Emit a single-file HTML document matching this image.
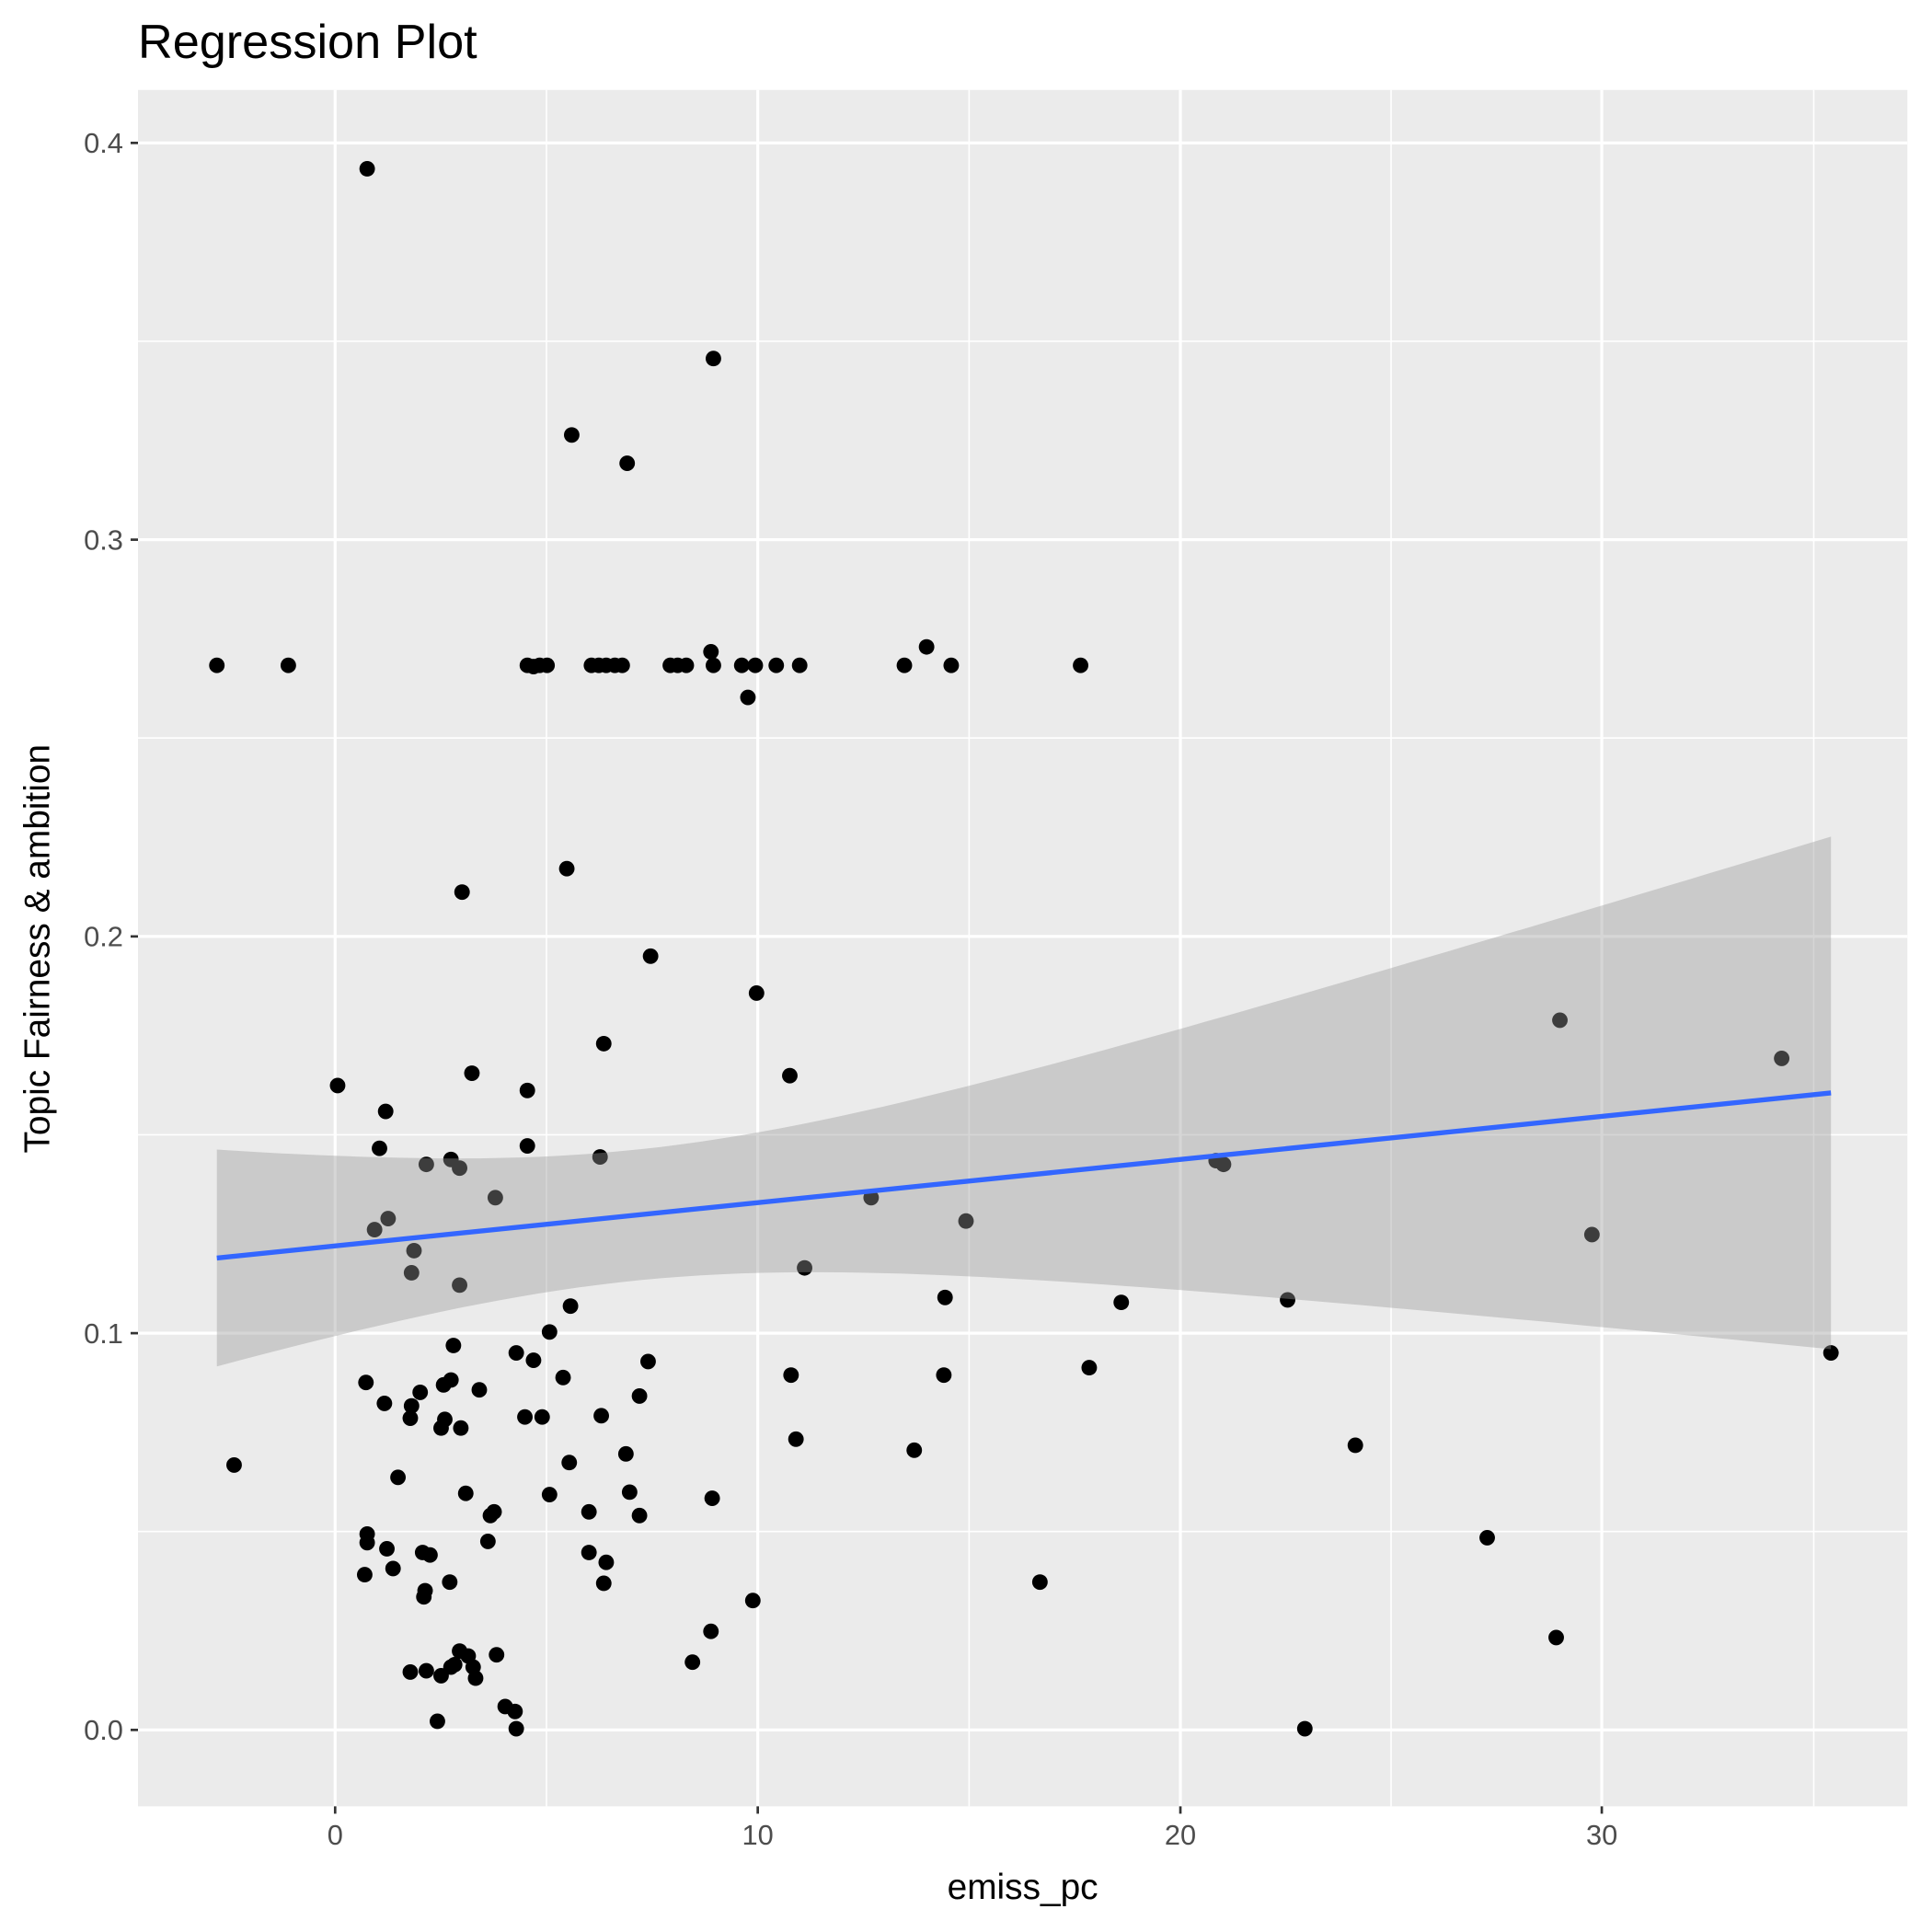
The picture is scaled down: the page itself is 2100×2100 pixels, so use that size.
<!DOCTYPE html>
<html><head><style>html,body{margin:0;padding:0;background:#fff}svg{display:block}</style></head>
<body>
<svg id="s" width="2100" height="2100" viewBox="0 0 1568 1568" xmlns="http://www.w3.org/2000/svg" font-family="Liberation Sans, sans-serif">
<rect x="0" y="0" width="1568" height="1568" fill="#fff"/>
<rect x="112" y="73" width="1436" height="1393" fill="#ebebeb"/>
<g stroke="#fff" stroke-width="1.2">
<line x1="443.5" x2="443.5" y1="73" y2="1466"/><line x1="786.5" x2="786.5" y1="73" y2="1466"/><line x1="1129" x2="1129" y1="73" y2="1466"/><line x1="1472" x2="1472" y1="73" y2="1466"/>
<line x1="112" x2="1548" y1="277" y2="277"/><line x1="112" x2="1548" y1="599" y2="599"/><line x1="112" x2="1548" y1="921" y2="921"/><line x1="112" x2="1548" y1="1243" y2="1243"/>
</g>
<g stroke="#fff" stroke-width="2.4">
<line x1="272" x2="272" y1="73" y2="1466"/><line x1="615" x2="615" y1="73" y2="1466"/><line x1="958" x2="958" y1="73" y2="1466"/><line x1="1300" x2="1300" y1="73" y2="1466"/>
<line x1="112" x2="1548" y1="116" y2="116"/><line x1="112" x2="1548" y1="438" y2="438"/><line x1="112" x2="1548" y1="760" y2="760"/><line x1="112" x2="1548" y1="1082" y2="1082"/><line x1="112" x2="1548" y1="1404" y2="1404"/>
</g>
<g id="pts" fill="#000"></g>
<path id="rib" fill="#999999" fill-opacity="0.4"/>
<line x1="176" y1="1021" x2="1486" y2="887" stroke="#3366FF" stroke-width="4"/>
<g stroke="#333" stroke-width="2">
<line x1="106" x2="112" y1="116" y2="116"/><line x1="106" x2="112" y1="438" y2="438"/><line x1="106" x2="112" y1="760" y2="760"/><line x1="106" x2="112" y1="1082" y2="1082"/><line x1="106" x2="112" y1="1404" y2="1404"/>
<line x1="272" x2="272" y1="1466" y2="1472"/><line x1="615" x2="615" y1="1466" y2="1472"/><line x1="958" x2="958" y1="1466" y2="1472"/><line x1="1300" x2="1300" y1="1466" y2="1472"/>
</g>
<g fill="#4d4d4d" font-size="23" text-anchor="end">
<text x="100" y="124">0.4</text><text x="100" y="446">0.3</text><text x="100" y="768">0.2</text><text x="100" y="1090">0.1</text><text x="100" y="1412">0.0</text>
</g>
<g fill="#4d4d4d" font-size="23" text-anchor="middle">
<text x="272" y="1497">0</text><text x="615" y="1497">10</text><text x="958" y="1497">20</text><text x="1300" y="1497">30</text>
</g>
<text x="830" y="1541" font-size="29" text-anchor="middle" fill="#000">emiss_pc</text>
<text transform="translate(40,770) rotate(-90)" font-size="29" text-anchor="middle" fill="#000">Topic Fairness &amp; ambition</text>
<text x="112" y="47" font-size="39" fill="#000">Regression Plot</text>
</svg>
<script>
var P=[[176,540],[234,540],[298,137],[579,291],[464,353],[509,376],[428,540],[433,541],[438,540],[444,540],[480,540],[486,540],[492,540],[499,540],[505,540],[544,540],[550,540],[557,540],[577,529],[579,540],[602,540],[613,540],[630,540],[649,540],[734,540],[752,525],[772,540],[877,540],[607,566],[460,705],[375,724],[528,776],[614,806],[490,847],[641,873],[383,871],[274,881],[428,885],[313,902],[308,932],[428,930],[346,945],[366,941],[373,948],[487,939],[402,972],[315,989],[304,998],[336,1015],[334,1033],[373,1043],[463,1060],[653,1029],[707,972],[784,991],[987,942],[993,945],[1266,828],[1446,859],[1292,1002],[1045,1055],[910,1057],[767,1053],[884,1110],[766,1116],[642,1116],[1486,1098],[446,1081],[368,1092],[419,1098],[433,1104],[526,1105],[457,1118],[297,1122],[366,1120],[341,1130],[312,1139],[389,1128],[360,1124],[334,1141],[333,1151],[426,1150],[440,1150],[488,1149],[361,1152],[358,1159],[374,1159],[519,1133],[508,1180],[646,1168],[742,1177],[1100,1173],[190,1189],[323,1199],[462,1187],[378,1212],[446,1213],[511,1211],[578,1216],[401,1227],[398,1230],[478,1227],[519,1230],[396,1251],[298,1245],[298,1252],[314,1257],[343,1260],[349,1262],[478,1260],[492,1268],[296,1278],[319,1273],[365,1284],[490,1285],[345,1291],[344,1296],[844,1284],[1207,1248],[611,1299],[577,1324],[1263,1329],[373,1340],[380,1344],[403,1343],[366,1353],[369,1351],[384,1353],[386,1362],[333,1357],[346,1356],[358,1360],[562,1349],[410,1385],[418,1389],[355,1397],[419,1403],[1059,1403]];
var g=document.getElementById('pts'),ns='http://www.w3.org/2000/svg';
P.forEach(function(p){var c=document.createElementNS(ns,'circle');c.setAttribute('cx',p[0]);c.setAttribute('cy',p[1]);c.setAttribute('r',6.3);g.appendChild(c);});
var A=0.042886,B=-44.16,C=14188;
function yc(x){return 1021-(x-176)*134/1310;}
function h(x){return Math.sqrt(A*x*x+B*x+C);}
var up=[],lo=[];
for(var i=0;i<=80;i++){var x=176+1310*i/80;up.push(x.toFixed(1)+','+(yc(x)-h(x)).toFixed(1));lo.unshift(x.toFixed(1)+','+(yc(x)+h(x)).toFixed(1));}
document.getElementById('rib').setAttribute('d','M'+up.join(' L')+' L'+lo.join(' L')+' Z');
</script>
</body></html>
